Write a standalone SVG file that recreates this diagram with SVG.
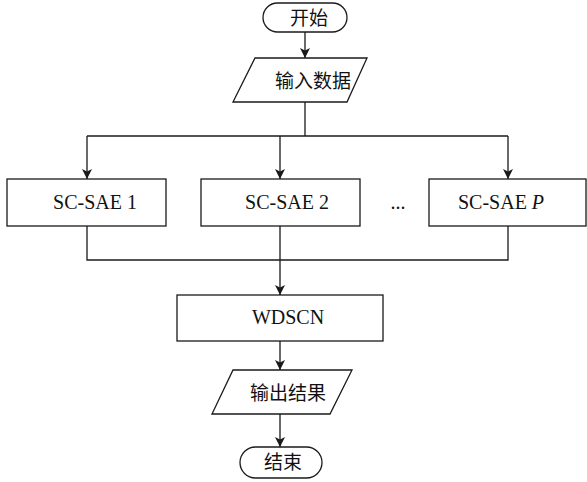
<svg xmlns="http://www.w3.org/2000/svg" width="587" height="482" viewBox="0 0 587 482">
<style>
.s{fill:#fff;stroke:#1a1a1a;stroke-width:1.3}
.c{fill:none;stroke:#1a1a1a;stroke-width:1.3}
.t{font-family:"Liberation Serif","Times New Roman",serif;font-size:20px;fill:#111;text-anchor:middle}
.z{font-family:"Noto Sans CJK SC","Noto Sans",sans-serif;font-size:19px;fill:#111;text-anchor:middle}
</style>
<defs>
<marker id="a" viewBox="0 0 10 10" refX="10" refY="5" markerWidth="10" markerHeight="10" markerUnits="userSpaceOnUse" orient="auto">
<path d="M0,0 L10,5 L0,10 L2.5,5 Z" fill="#1a1a1a"/>
</marker>
</defs>
<g id="connectors">
<path class="c" d="M305,32 V58" marker-end="url(#a)"/>
<path class="c" d="M305,102 V136"/>
<path class="c" d="M87,136 H508"/>
<path class="c" d="M87,136 V179" marker-end="url(#a)"/>
<path class="c" d="M280,136 V179" marker-end="url(#a)"/>
<path class="c" d="M508,136 V179" marker-end="url(#a)"/>
<path class="c" d="M87,226 V260 H508 V226"/>
<path class="c" d="M280,226 V295" marker-end="url(#a)"/>
<path class="c" d="M280,341 V370" marker-end="url(#a)"/>
<path class="c" d="M280,414 V447" marker-end="url(#a)"/>
</g>
<g id="start">
<rect class="s" x="263" y="3" width="84" height="29" rx="14.5"/>
<text class="z" x="309" y="25">开始</text>
</g>
<g id="input">
<path class="s" d="M255,58 H367 L347,102 H233 Z"/>
<text class="z" x="313" y="88">输入数据</text>
</g>
<g id="sae1">
<rect class="s" x="7" y="179" width="159" height="47"/>
<text class="t" x="95" y="209">SC-SAE 1</text>
</g>
<g id="sae2">
<rect class="s" x="201" y="179" width="159" height="47"/>
<text class="t" x="287" y="209">SC-SAE 2</text>
</g>
<g id="dots">
<text class="t" x="398" y="209">...</text>
</g>
<g id="saeP">
<rect class="s" x="429" y="179" width="157" height="47"/>
<text class="t" x="501" y="209">SC-SAE <tspan font-style="italic">P</tspan></text>
</g>
<g id="wdscn">
<rect class="s" x="177" y="295" width="206" height="46"/>
<text class="t" x="288" y="324">WDSCN</text>
</g>
<g id="output">
<path class="s" d="M233,370 H352 L330,414 H212 Z"/>
<text class="z" x="288" y="400">输出结果</text>
</g>
<g id="end">
<rect class="s" x="240" y="447" width="82" height="31" rx="15.5"/>
<text class="z" x="283" y="469">结束</text>
</g>
</svg>
